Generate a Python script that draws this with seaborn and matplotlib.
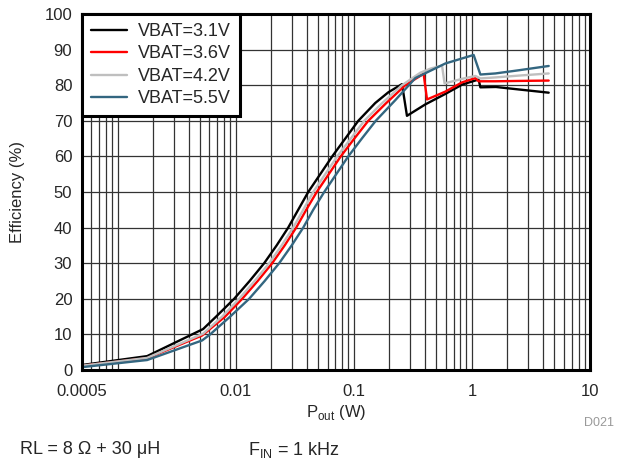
import seaborn as sns
import matplotlib.pyplot as plt
import matplotlib.ticker as mticker
import pandas as pd
import numpy as np

# Efficiency (%) vs output power (W)
p_31 = [0.0005, 0.00178, 0.0053, 0.00683, 0.00971, 0.01313, 0.01743, 0.02224, 0.02785,
        0.03384, 0.04115, 0.05199, 0.0657, 0.08467, 0.1092, 0.152, 0.196, 0.2561,
        0.282, 0.403, 0.6, 0.83, 1.14, 1.18, 1.6, 2.5, 4.47]
e_31 = [1.4, 3.9, 11.5, 15, 20, 25, 30, 35, 40,
        45, 50, 55, 60, 65, 70, 75, 78, 80.3,
        71.4, 74.6, 77.6, 80.2, 81.6, 79.4, 79.5, 78.8, 77.9]

p_36 = [0.0005, 0.00178, 0.0052, 0.00814, 0.01135, 0.01536, 0.02038, 0.026, 0.03255,
        0.03957, 0.04856, 0.06137, 0.07755, 0.101, 0.1327, 0.1885, 0.2731, 0.3902,
        0.417, 0.596, 0.826, 1.07, 1.14, 1.58, 2.5, 4.47]
e_36 = [1.2, 3.3, 9.7, 15, 20, 25, 30, 35, 40,
        45, 50, 55, 60, 65, 70, 75, 80, 83.2,
        76.0, 78.2, 80.8, 82.0, 81.1, 81.1, 81.2, 81.3]

p_42 = [0.0005, 0.00178, 0.0053, 0.00768, 0.0107, 0.01448, 0.01922, 0.02453, 0.0307,
        0.03733, 0.04536, 0.05731, 0.07244, 0.0943, 0.1227, 0.1743, 0.2561, 0.3658, 0.45,
        0.5588, 0.587, 0.83, 1.07, 1.18, 1.6, 2.5, 4.47]
e_42 = [1.2, 3.4, 10.2, 15, 20, 25, 30, 35, 40,
        45, 50, 55, 60, 65, 70, 75, 80, 83.5, 84.7,
        85.5, 80.5, 81.8, 82.6, 81.9, 82.2, 82.7, 83.3]

p_55 = [0.0005, 0.00178, 0.0052, 0.00608, 0.00898, 0.01301, 0.0176, 0.02336, 0.02982,
        0.03733, 0.04536, 0.0562, 0.07102, 0.0898, 0.1169, 0.1535, 0.2247, 0.3319,
        0.5961, 1.035, 1.18, 1.58, 2.5, 4.47]
e_55 = [0.8, 2.8, 8.3, 10, 15, 20, 25, 30, 35,
        40, 45, 50, 55, 60, 65, 70, 75.8, 82,
        86.1, 88.5, 83.0, 83.3, 84.2, 85.4]

series = ["VBAT=3.1V", "VBAT=3.6V", "VBAT=4.2V", "VBAT=5.5V"]
colors = ["#000000", "#ff0000", "#bfbfbf", "#336680"]

frames = []
for name, p, e in zip(series, [p_31, p_36, p_42, p_55], [e_31, e_36, e_42, e_55]):
    frames.append(pd.DataFrame({"P": p, "eff": e, "VBAT": name}))
df = pd.concat(frames, ignore_index=True)

sns.set_style("white")
plt.rcParams["font.family"] = ["Liberation Sans", "DejaVu Sans"]

fig = plt.figure(figsize=(6.22, 4.63), dpi=100)
ax = fig.add_axes([82 / 622, 1 - 370 / 463, (590 - 82) / 622, (370 - 14) / 463])

sns.lineplot(data=df, x="P", y="eff", hue="VBAT", palette=dict(zip(series, colors)),
             hue_order=series, estimator=None, sort=False, lw=1.7, ax=ax)

ax.set_xscale("log")
ax.set_xlim(0.0005, 10)
ax.set_ylim(0, 100)
ax.set_xticks([0.0005, 0.01, 0.1, 1, 10])
ax.set_xticklabels(["0.0005", "0.01", "0.1", "1", "10"])
ax.xaxis.set_minor_locator(mticker.LogLocator(base=10, subs=np.arange(1, 10), numticks=20))
ax.xaxis.set_minor_formatter(mticker.NullFormatter())
ax.set_yticks(np.arange(0, 101, 10))
ax.tick_params(which="both", length=0, labelsize=12)
ax.tick_params(axis="x", pad=10)
ax.tick_params(axis="y", pad=7)
ax.grid(which="both", color="0.2", lw=0.9)
ax.set_axisbelow(True)
for s in ax.spines.values():
    s.set_visible(True)
    s.set_color("black")
    s.set_linewidth(2.2)

ax.set_xlabel(r"P$_{\mathregular{out}}$ (W)", fontsize=12, labelpad=3)
ax.set_ylabel("Efficiency (%)", fontsize=12, labelpad=14)

leg = ax.legend(loc="upper left", fontsize=13, frameon=True, fancybox=False,
                borderaxespad=0, handlelength=2.0, labelspacing=0.3,
                borderpad=0.5, handletextpad=0.6)
leg.get_frame().set_edgecolor("black")
leg.get_frame().set_linewidth(2.2)
leg.get_frame().set_alpha(1)

fig.text(614 / 622, 1 - 423 / 463, "D021", fontsize=9, color="#999999", ha="right", va="center")
fig.text(20 / 622, 1 - 450 / 463, "RL = 8 \u03a9 + 30 \u03bcH", fontsize=13, ha="left", va="center")
fig.text(248 / 622, 1 - 450 / 463, r"F$_{\mathregular{IN}}$ = 1 kHz", fontsize=13, ha="left", va="center")

fig.savefig("out.png", dpi=100)
